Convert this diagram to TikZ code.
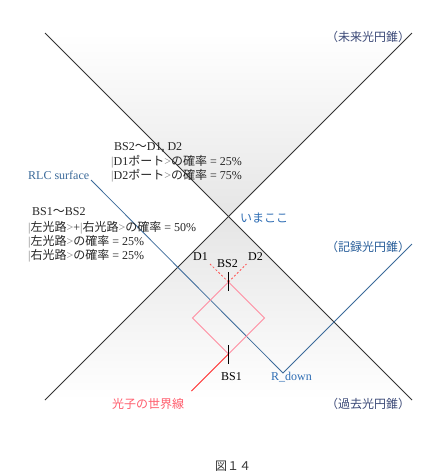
\documentclass[tikz,border=0pt]{standalone}
\usepackage{fontspec}
\setmainfont{Liberation Serif}
\newfontfamily\jp{Noto Sans CJK JP}
\newcommand\J[1]{{\jp #1}}
\newcommand\gb[1]{\textcolor{gray}{#1}}
\definecolor{rlcblue}{HTML}{3B6A9A}
\definecolor{lblblue}{HTML}{2E6DB4}
\definecolor{conelbl}{HTML}{3C4A78}
\definecolor{diapink}{HTML}{FF8DA1}
\definecolor{photonred}{HTML}{FF2A2A}
\definecolor{photonlbl}{HTML}{FF5C6C}
\begin{document}
\begin{tikzpicture}[x=1pt,y=-1pt,
  every node/.style={inner sep=0pt, font=\fontsize{12}{14}\selectfont},
  cone/.style={draw=black!80, line width=0.8pt},
  rlcline/.style={draw=rlcblue, line width=0.8pt},
  diamondline/.style={draw=diapink, line width=0.8pt},
  photon/.style={draw=photonred, line width=0.8pt},
  dashedred/.style={draw=photonred!80, line width=0.8pt, dashed, dash pattern=on 2pt off 2pt},
  tick/.style={draw=black, line width=0.9pt},
  txt/.style={anchor=base west, text=black!85}
]
\useasboundingbox (0,0) rectangle (440,475);
\fill[white] (0,0) rectangle (440,475);

% light cones
\coordinate (apex) at (229,217);
\coordinate (ftl) at (45,33);
\coordinate (ftr) at (412,33);
\coordinate (pbl) at (45,400);
\coordinate (pbr) at (412,400);
\shade[top color=white, bottom color=black!10] (ftl) -- (ftr) -- (apex) -- cycle;
\shade[top color=black!10, bottom color=white] (apex) -- (pbl) -- (pbr) -- cycle;
\draw[cone] (ftl) -- (pbr);
\draw[cone] (ftr) -- (pbl);

% RLC surface
\coordinate (rlc) at (91,180);
\coordinate (rdown) at (283,373);
\coordinate (rend) at (412,244);
\draw[rlcline] (rlc) -- (rdown) -- (rend);

% interferometer
\coordinate (bs1) at (228.5,354);
\coordinate (bs2) at (228.5,282);
\coordinate (dl) at (192.5,318);
\coordinate (dr) at (264.5,318);
\coordinate (src) at (191.5,391);
\coordinate (d1end) at (210,264);
\coordinate (d2end) at (246.5,264);
\draw[diamondline] (bs1) -- (dl) -- (bs2) -- (dr) -- cycle;
\draw[photon] (src) -- (bs1);
\draw[dashedred] (bs2) -- (d1end);
\draw[dashedred] (bs2) -- (d2end);
\coordinate (t1a) at (228.5,345);
\coordinate (t1b) at (228.5,364);
\coordinate (t2a) at (228.5,272);
\coordinate (t2b) at (228.5,291);
\draw[tick] (t1a) -- (t1b);
\draw[tick] (t2a) -- (t2b);

% labels
\node[txt] (h1) at (114,150) {BS2\J{～}D1, D2};
\node[txt] (h1a) at (111,165) {\gb{|}D1\J{ポート}\gb{>}\J{の確率} = 25\%};
\node[txt] (h1b) at (111,179) {\gb{|}D2\J{ポート}\gb{>}\J{の確率} = 75\%};

\node[txt] (h2) at (32,215) {BS1\J{～}BS2};
\node[txt] (h2a) at (28,231) {\gb{|}\J{左光路}\gb{>}+\gb{|}\J{右光路}\gb{>}\J{の確率} = 50\%};
\node[txt] (h2b) at (28,245) {\gb{|}\J{左光路}\gb{>}\J{の確率} = 25\%};
\node[txt] (h2c) at (28,259) {\gb{|}\J{右光路}\gb{>}\J{の確率} = 25\%};

\node[anchor=west, text=rlcblue] (rlclbl) at (28,175) {RLC surface};
\node[anchor=west, text=lblblue] (now) at (240,218) {\J{いまここ}};
\node[anchor=west, text=black] (d1) at (193,257) {D1};
\node[anchor=west, text=black] (d2) at (248,257) {D2};
\node[anchor=west, text=black] (bs2l) at (217,264) {BS2};
\node[anchor=west, text=black] (bs1l) at (221,377) {BS1};
\node[anchor=west, text=lblblue] (rdl) at (271,377) {R\_down};
\node[anchor=west, text=photonlbl] (wl) at (112,404) {\J{光子の世界線}};
\node[anchor=west, text=conelbl] (future) at (326,37) {\J{（未来光円錐）}};
\node[anchor=west, text=lblblue!85!black] (record) at (326,247) {\J{（記録光円錐）}};
\node[anchor=west, text=conelbl] (past) at (326,404) {\J{（過去光円錐）}};
\node[anchor=center, text=black!80] (fig) at (233,466) {\J{図１４}};
\end{tikzpicture}
\end{document}
